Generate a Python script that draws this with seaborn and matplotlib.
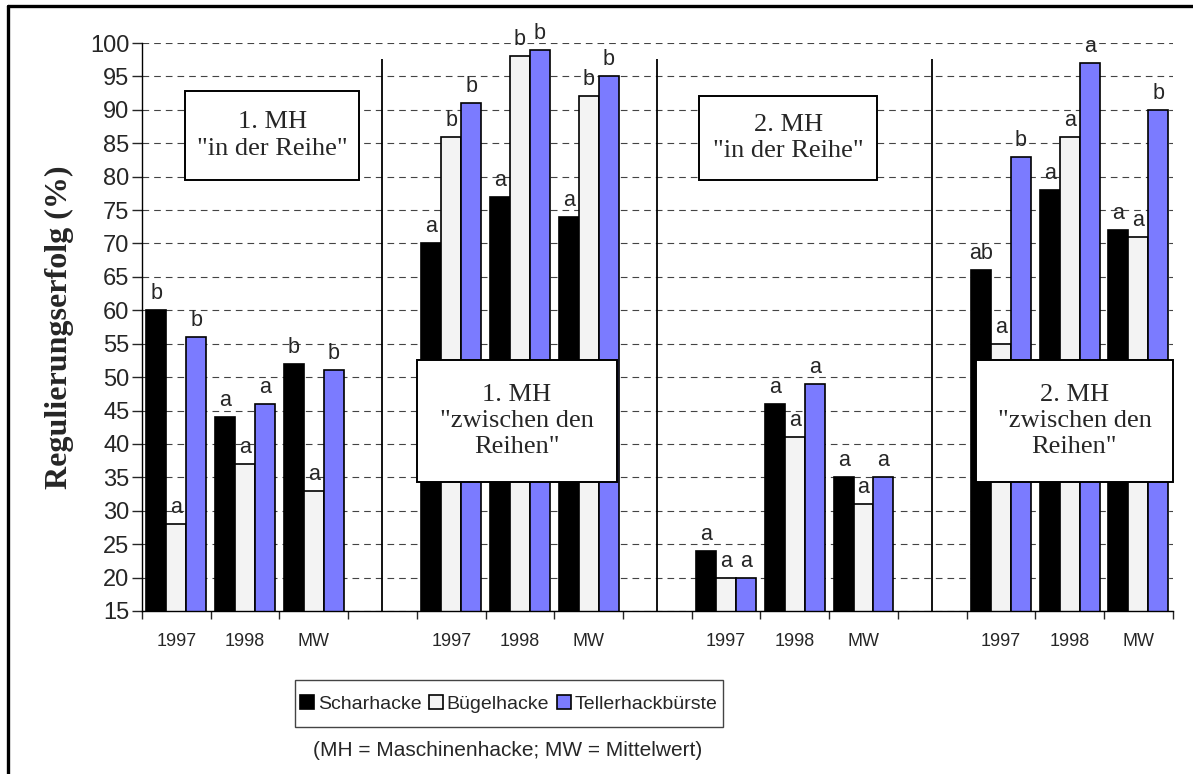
import numpy as np
import pandas as pd
import matplotlib
matplotlib.use('Agg')
import matplotlib.pyplot as plt
from matplotlib.patches import Rectangle
from matplotlib.lines import Line2D
import seaborn as sns

sns.set_style('white')
plt.rcParams['font.family'] = ['Liberation Sans', 'DejaVu Sans']

years = ['1997', '1998', 'MW']
geraete = ['Scharhacke', 'Bügelhacke', 'Tellerhackbürste']
colors = ['#000000', '#f3f3f3', '#7b7bff']

# 4 Abschnitte x (1997, 1998, MW)
scharhacke = [60, 44, 52, 70, 77, 74, 24, 46, 35, 66, 78, 72]
buegelhacke = [28, 37, 33, 86, 98, 92, 20, 41, 31, 55, 86, 71]
teller = [56, 46, 51, 91, 99, 95, 20, 49, 35, 83, 97, 90]

sch_sig = ['b', 'a', 'b', 'a', 'a', 'a', 'a', 'a', 'a', 'ab', 'a', 'a']
bue_sig = ['a', 'a', 'a', 'b', 'b', 'b', 'a', 'a', 'a', 'a', 'a', 'a']
tel_sig = ['b', 'a', 'b', 'b', 'b', 'b', 'a', 'a', 'a', 'b', 'a', 'b']

box_texts = ['1. MH\n"in der Reihe"', '1. MH\n"zwischen den\nReihen"',
             '2. MH\n"in der Reihe"', '2. MH\n"zwischen den\nReihen"']

# category order with an empty slot between the sections
order = []
tick_names = []
for s in range(4):
    for y in years:
        order.append(f'{y}_{s}')
        tick_names.append(y)
    if s < 3:
        order.append(f'leer_{s}')
        tick_names.append('')

rows = []
for vals, sig, g in [(scharhacke, sch_sig, geraete[0]),
                     (buegelhacke, bue_sig, geraete[1]),
                     (teller, tel_sig, geraete[2])]:
    for i, (v, l) in enumerate(zip(vals, sig)):
        rows.append({'cat': f'{years[i % 3]}_{i // 3}', 'val': v, 'geraet': g, 'sig': l})
df = pd.DataFrame(rows)

W, H = 1193, 774
fig = plt.figure(figsize=(W / 100, H / 100), dpi=100)
ax = fig.add_axes([0.119, 0.2106, 0.864, 0.7338])

ax.set_axisbelow(True)
ax.yaxis.grid(True, color='#444444', linestyle=(0, (6, 4.5)), linewidth=0.8)

bw = 0.87
sns.barplot(data=df, x='cat', y='val', hue='geraet', order=order, hue_order=geraete,
            palette=colors, saturation=1, width=bw, edgecolor='black', linewidth=1.2,
            errorbar=None, ax=ax)

handles, labels = ax.get_legend_handles_labels()
if ax.get_legend() is not None:
    ax.get_legend().remove()

# significance letters
for _, r in df.iterrows():
    xi = order.index(r['cat']) + (geraete.index(r['geraet']) - 1) * bw / 3
    ax.text(xi, r['val'] + 0.9, r['sig'], ha='center', va='bottom', fontsize=15.5)

ax.set_ylim(15, 100)
ax.set_xlim(-0.5, len(order) - 0.5)
ax.set_yticks(np.arange(15, 101, 5))
ax.tick_params(axis='y', labelsize=17, length=7, width=1, direction='out', left=True, pad=2)

ax.set_xticks(np.arange(-0.5, len(order), 1))
ax.set_xticklabels([])
ax.tick_params(axis='x', which='major', length=6, width=1, direction='out', bottom=True)
ax.set_xticks(np.arange(len(order)), minor=True)
ax.set_xticklabels(tick_names, minor=True)
ax.tick_params(axis='x', which='minor', length=0, labelsize=13, pad=16)
ax.set_xlabel('')

ax.set_ylabel('Regulierungserfolg (%)', fontsize=23, fontweight='bold',
              family=['Liberation Serif', 'DejaVu Serif'])
ax.yaxis.set_label_coords(-0.066, 0.5)

for sp in ['top', 'right']:
    ax.spines[sp].set_visible(False)
for sp in ['left', 'bottom']:
    ax.spines[sp].set_color('black')
    ax.spines[sp].set_linewidth(1)

# vertical separators
for x in [3, 7, 11]:
    ax.vlines(x, 15, 97.6, color='black', linewidth=1.3)

# text boxes
boxes = [(0.13, 79.5, 2.53, 13.3), (3.5, 34.3, 2.91, 18.3),
         (7.61, 79.5, 2.59, 12.6), (11.64, 34.3, 2.86, 18.3)]
for (bx, by, bwid, bh), t in zip(boxes, box_texts):
    ax.add_patch(Rectangle((bx, by), bwid, bh, facecolor='white', edgecolor='black',
                           linewidth=1.4, zorder=5, clip_on=False))
    ax.text(bx + bwid / 2, by + bh / 2, t, ha='center', va='center', fontsize=19,
            linespacing=1.25, family=['Liberation Serif', 'DejaVu Serif'], zorder=6)

# legend (frame drawn separately for tighter horizontal padding)
leg = fig.legend(handles, labels, loc='center', bbox_to_anchor=(509 / W, 1 - 704 / H), ncol=3,
                 fontsize=14, frameon=False, handlelength=0.7, handleheight=0.7,
                 handletextpad=0.2, columnspacing=0.4, borderpad=0, borderaxespad=0)
fig.add_artist(Rectangle((295 / W, 1 - 727 / H), 428 / W, 47 / H, transform=fig.transFigure,
                         facecolor='none', edgecolor='#444444', linewidth=1))

fig.text(508 / W, 1 - 750 / H, '(MH = Maschinenhacke; MW = Mittelwert)', ha='center',
         va='center', fontsize=15)

# outer frame (left and top only)
fig.add_artist(Line2D([8 / W, 8 / W], [0, 1 - 6 / H], color='black', linewidth=2.4))
fig.add_artist(Line2D([8 / W, 1], [1 - 6 / H, 1 - 6 / H], color='black', linewidth=2.4))

fig.savefig('out.png', dpi=100)
